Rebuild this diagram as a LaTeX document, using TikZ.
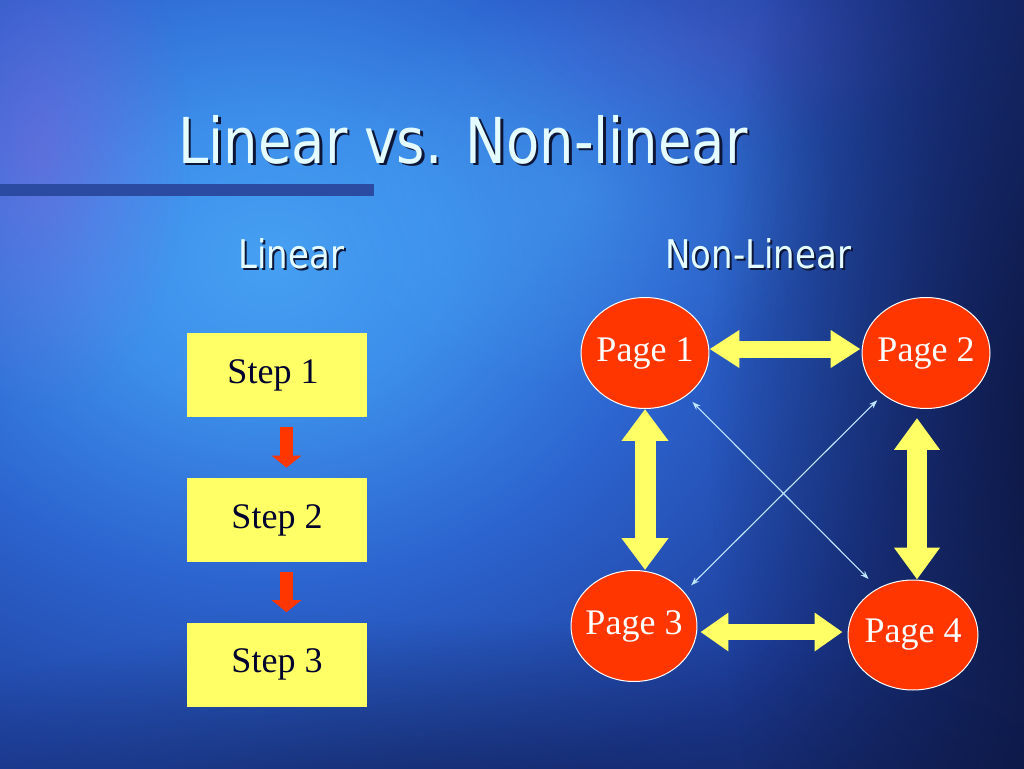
\documentclass[tikz,border=0pt]{standalone}
\usepackage{fontspec}
\usetikzlibrary{shapes.geometric,arrows.meta,calc,fadings}
\setmainfont{Liberation Serif}
\newfontfamily\headfont[FakeStretch=0.86]{DejaVu Sans}
\definecolor{bgbase}{HTML}{0B1440}
\definecolor{g0}{HTML}{46A0F2}
\definecolor{g1}{HTML}{3C8EEA}
\definecolor{g2}{HTML}{2C64CF}
\definecolor{g3}{HTML}{1D3C98}
\definecolor{g4}{HTML}{12225C}
\definecolor{g5}{HTML}{0B1440}
\definecolor{barc}{HTML}{2B4AA2}
\definecolor{headc}{HTML}{E4FCFF}
\definecolor{shadc}{HTML}{0E1638}
\definecolor{darkc}{HTML}{0A0F30}
\definecolor{yelc}{HTML}{FFFF66}
\definecolor{redc}{HTML}{FF3600}
\definecolor{stepc}{HTML}{00002E}
\definecolor{thinc}{HTML}{BFE6FF}
\definecolor{purpc}{HTML}{9A5CD8}
\definecolor{cyanc}{HTML}{55B8FF}
\pgfdeclareradialshading{bgglow}{\pgfpoint{0bp}{0bp}}{color(0bp)=(g0); color(4bp)=(g1); color(9bp)=(g2); color(16bp)=(g3); color(23bp)=(g4); color(32bp)=(g5); color(50bp)=(g5)}
\tikzfading[name=softglow, inner color=transparent!0, outer color=transparent!100]
\tikzset{
  headtxt/.style={inner sep=0pt, anchor=base west, text=headc},
  headshadow/.style={inner sep=0pt, anchor=base west, text=shadc},
  stepbox/.style={rectangle, fill=yelc, minimum width=3.6cm, minimum height=1.68cm, inner sep=0pt,
    text=stepc, font=\fontsize{20.5}{24}\selectfont},
  pagenode/.style={ellipse, fill=redc, draw=white, line width=0.02cm, inner xsep=-0.1cm, inner ysep=0pt,
    text=white, font=\fontsize{20.5}{24}\selectfont},
  redarrow/.style={draw=redc, line width=0.25cm, line cap=butt, arrows={-Triangle[width=0.58cm,length=0.24cm]}},
  yarrow/.style n args={3}{draw=yelc, line width=#1, line cap=butt,
    arrows={Triangle[width=#2,length=#3]-Triangle[width=#2,length=#3]}},
  thinarrow/.style={draw=thinc, line width=0.022cm,
    arrows={Stealth[length=0.17cm,width=0.12cm]-Stealth[length=0.17cm,width=0.12cm]}}
}
\begin{document}
\begin{tikzpicture}[x=0.02cm,y=-0.02cm]
\useasboundingbox (0,0) rectangle (1024,768);
% background
\fill[bgbase] (0,0) rectangle (1024,768);
\begin{scope}
\clip (0,0) rectangle (1024,768);
\fill[shading=bgglow] (-830,-640) rectangle (1370,1160);
\fill[purpc, path fading=softglow, fill opacity=0.4] (40,150) ellipse [x radius=150, y radius=260];
\fill[cyanc, path fading=softglow, fill opacity=0.3] (580,190) ellipse [x radius=260, y radius=200];
\fill[purpc, path fading=softglow, fill opacity=0.15] (720,40) ellipse [x radius=260, y radius=110];
\fill[darkc, path fading=softglow, fill opacity=0.85] (1090,420) ellipse [x radius=380, y radius=820];
\fill[darkc, path fading=softglow, fill opacity=0.5] (450,820) ellipse [x radius=650, y radius=200];
\end{scope}
% title bar
\fill[barc] (0,184) rectangle (374,196);
% headings
\node[headshadow, font=\headfont\fontsize{36}{40}\selectfont] (tsh) at (180.5,165.5) {Linear vs. Non-linear};
\node[headtxt, font=\headfont\fontsize{36}{40}\selectfont] (title) at (178,163) {Linear vs. Non-linear};
\node[headshadow, font=\headfont\fontsize{22.5}{26}\selectfont] (lsh) at (240,270) {Linear};
\node[headtxt, font=\headfont\fontsize{22.5}{26}\selectfont] (lin) at (238,268) {Linear};
\node[headshadow, font=\headfont\fontsize{22.5}{26}\selectfont] (nsh) at (667,270) {Non-Linear};
\node[headtxt, font=\headfont\fontsize{22.5}{26}\selectfont] (nlin) at (665,268) {Non-Linear};
% linear steps
\node[stepbox] (S1) at (277,375) {\hspace*{-0.16cm}Step 1};
\node[stepbox] (S2) at (277,520) {Step 2};
\node[stepbox] (S3) at (277,664.5) {Step 3};
\draw[redarrow] ($(S1.south)+(9.5,10)$) -- ($(S2.north)+(9.5,-10)$);
\draw[redarrow] ($(S2.south)+(9.5,10)$) -- ($(S3.north)+(9.5,-10)$);
% non-linear pages
\node[pagenode, minimum width=2.56cm, minimum height=2.22cm] (P1) at (645,353) {Page 1};
\node[pagenode, minimum width=2.56cm, minimum height=2.22cm] (P2) at (926,353) {Page 2};
\node[pagenode, minimum width=2.52cm, minimum height=2.22cm] (P3) at (634,626) {Page 3};
\node[pagenode, minimum width=2.60cm, minimum height=2.20cm] (P4) at (913,635) {Page 4};
% yellow block arrows
\draw[yarrow={0.34cm}{0.72cm}{0.60cm}] ($(P1.east)+(0,-4)$) -- ($(P2.west)+(-1,-4)$);
\draw[yarrow={0.42cm}{0.90cm}{0.64cm}] (P1.south) -- (P1.south |- P3.north);
\draw[yarrow={0.40cm}{0.88cm}{0.64cm}] ($(P2.south)+(-9,9)$) -- ($(P4.north)+(4,0)$);
\draw[yarrow={0.32cm}{0.74cm}{0.56cm}] ($(P3.east)+(3,6)$) -- ($(P4.west)+(-5,-3)$);
% thin diagonal arrows
\draw[thinarrow, shorten <=0.17cm, shorten >=0.26cm] (P1.314) -- (P4.127);
\draw[thinarrow, shorten <=0.16cm, shorten >=0.19cm] (P2.224) -- (P3.34);
\end{tikzpicture}
\end{document}
